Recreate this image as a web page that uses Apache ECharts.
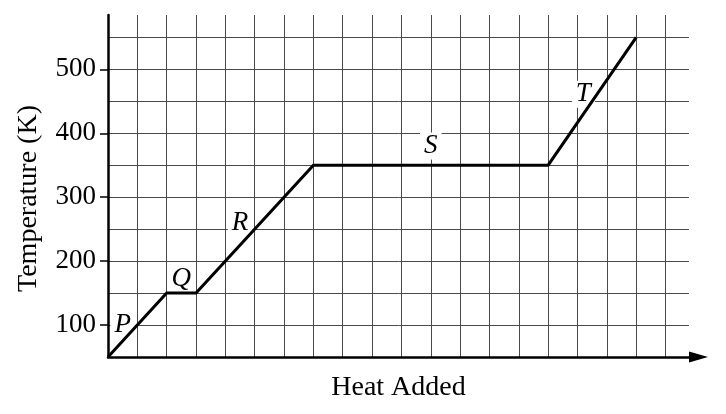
<!DOCTYPE html>
<html>
<head>
<meta charset="utf-8">
<script src="https://cdn.jsdelivr.net/npm/echarts@6/dist/echarts.min.js"></script>
<style>
html,body{margin:0;padding:0;background:#fff;}
#chart{width:726px;height:414px;}
</style>
</head>
<body>
<div id="chart"></div>
<script>
// Heat added (grid units) and temperature (K) at the corners of the heating curve
var heatAdded = [0, 2, 3, 7, 15, 18];
var temperature = [50, 150, 150, 350, 350, 550];

// Segment labels
var segmentNames = ['P', 'Q', 'R', 'S', 'T'];
var segmentLabelX = [0.5, 2.5, 4.5, 11, 16.2];
var segmentLabelY = [100, 172, 259, 380, 461];

// Y tick labels
var yTickValues = [100, 200, 300, 400, 500];

var FONT = 'Liberation Serif';

var lineData = heatAdded.map(function (x, i) { return [x, temperature[i]]; });
var labelData = segmentNames.map(function (n, i) {
  return { name: n, value: [segmentLabelX[i], segmentLabelY[i]] };
});

var chart = echarts.init(document.getElementById('chart'), null, { renderer: 'canvas' });
chart.setOption({
  animation: false,
  backgroundColor: '#fff',
  grid: { left: 108, right: 37, top: 15, bottom: 57, containLabel: false },
  xAxis: {
    type: 'value',
    min: 0,
    max: 19.8,
    interval: 1,
    name: 'Heat Added',
    nameLocation: 'middle',
    nameGap: 17,
    nameTextStyle: { fontFamily: FONT, fontSize: 28, color: '#000' },
    axisLine: {
      show: true,
      onZero: false,
      symbol: ['none', 'triangle'],
      symbolSize: [11, 19],
      symbolOffset: [0, 9.5],
      lineStyle: { color: '#000', width: 2.5 }
    },
    axisTick: { show: false },
    axisLabel: { show: false },
    splitLine: {
      show: true,
      showMinLine: false,
      showMaxLine: false,
      lineStyle: { color: '#4a4a4a', width: 1 }
    }
  },
  yAxis: [
    {
      // grid lines every 50 K
      type: 'value',
      position: 'left',
      min: 50,
      max: 585,
      interval: 50,
      axisLine: { show: false },
      axisTick: { show: false },
      axisLabel: { show: false },
      splitLine: {
        show: true,
        showMinLine: false,
        showMaxLine: false,
        lineStyle: { color: '#4a4a4a', width: 1 }
      }
    },
    {
      // axis line, ticks and labels every 100 K
      type: 'value',
      position: 'left',
      offset: 0,
      min: 50,
      max: 585,
      interval: 50,
      name: 'Temperature (K)',
      nameLocation: 'middle',
      nameGap: 65,
      nameRotate: 90,
      nameTextStyle: { fontFamily: FONT, fontSize: 28, color: '#000', padding: [0, 25, 0, 0] },
      axisLine: { show: true, onZero: false, lineStyle: { color: '#000', width: 2.5 } },
      axisTick: {
        show: true,
        customValues: yTickValues,
        length: 8,
        inside: false,
        lineStyle: { color: '#000', width: 1.5 }
      },
      axisLabel: {
        show: true,
        customValues: yTickValues,
        margin: 12,
        fontFamily: FONT,
        fontSize: 27,
        color: '#000'
      },
      splitLine: { show: false }
    }
  ],
  series: [
    {
      type: 'scatter',
      z: 1,
      yAxisIndex: 0,
      data: labelData,
      symbol: 'circle',
      symbolSize: 1,
      itemStyle: { color: 'rgba(0,0,0,0)', opacity: 1 },
      silent: true,
      label: {
        show: true,
        position: 'inside',
        formatter: '{b}',
        fontFamily: FONT,
        fontStyle: 'italic',
        fontSize: 27,
        lineHeight: 27,
        color: '#000',
        opacity: 1,
        backgroundColor: '#fff',
        padding: [0, 4]
      },
      emphasis: { disabled: true }
    },
    {
      type: 'line',
      z: 3,
      yAxisIndex: 0,
      data: lineData,
      symbol: 'none',
      silent: true,
      lineStyle: { color: '#000', width: 3, join: 'miter' },
      emphasis: { disabled: true }
    }
  ]
});
</script>
</body>
</html>
